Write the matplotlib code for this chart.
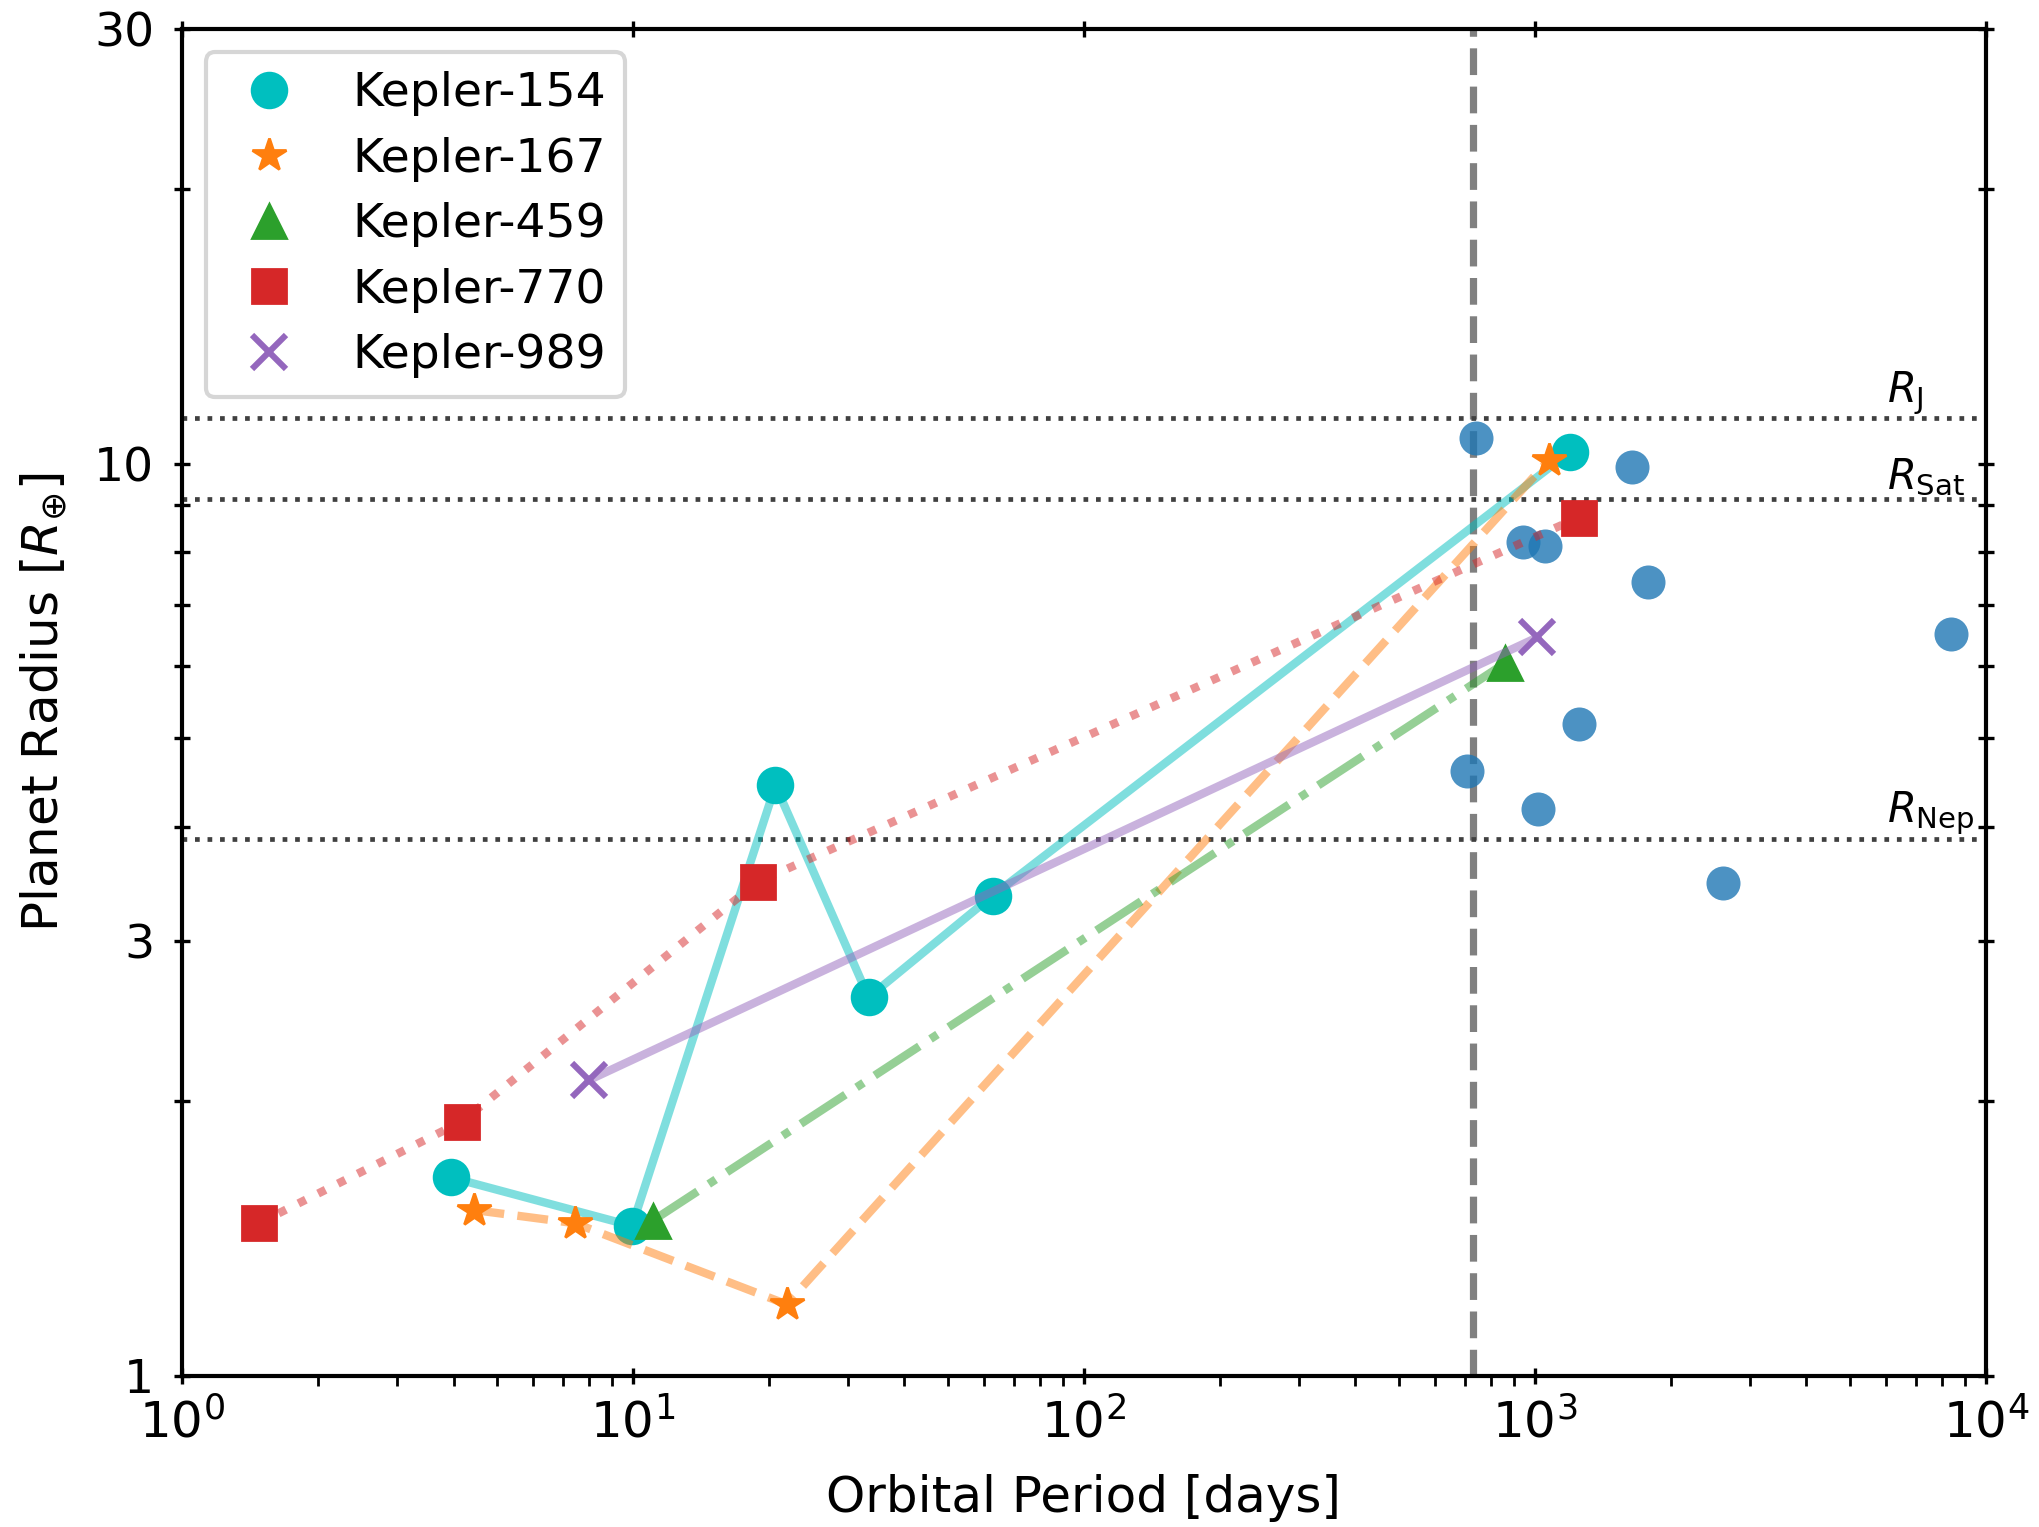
import matplotlib
matplotlib.use("Agg")
import matplotlib.pyplot as plt
from matplotlib.ticker import FixedLocator, FixedFormatter, LogLocator, NullFormatter

# Multi-planet systems: orbital period [days] and radius [Earth radii]
systems = ["Kepler-154", "Kepler-167", "Kepler-459", "Kepler-770", "Kepler-989"]
k154_period = [3.95, 9.95, 20.7, 33.3, 62.7, 1195]
k154_radius = [1.65, 1.46, 4.44, 2.60, 3.36, 10.3]
k167_period = [4.43, 7.43, 21.9, 1074]
k167_radius = [1.52, 1.47, 1.198, 10.09]
k459_period = [11.07, 857]
k459_radius = [1.48, 6.04]
k770_period = [1.48, 4.17, 18.9, 1251]
k770_radius = [1.47, 1.90, 3.48, 8.73]
k989_period = [7.99, 1012]
k989_radius = [2.11, 6.45]

# Other long-period planets
other_period = [741, 1643, 940, 1052, 1778, 8360, 1251, 707, 1018, 2614]
other_radius = [10.66, 9.92, 8.20, 8.12, 7.41, 6.50, 5.18, 4.60, 4.18, 3.47]

# Reference radii and period cut
r_jup, r_sat, r_nep = 11.21, 9.14, 3.88
period_cut = 730

y_ticks = [1, 3, 10, 30]
y_tick_labels = ["1", "3", "10", "30"]
y_minor = [2, 4, 5, 6, 7, 8, 9, 20]

plt.rcParams["font.family"] = ["DejaVu Sans"]
plt.rcParams["mathtext.fontset"] = "dejavusans"

fig = plt.figure(figsize=(10.195, 7.635), dpi=200)
ax = fig.add_axes([0.0893, 0.099, 0.8846, 0.8823])

ax.set_xscale("log")
ax.set_yscale("log")
ax.set_xlim(1, 1e4)
ax.set_ylim(1, 30)

ax.axvline(period_cut, color="gray", ls="--", lw=2.6, zorder=1)
for r in (r_jup, r_sat, r_nep):
    ax.axhline(r, color="0.25", ls=":", lw=1.7, zorder=1)

for r, lab in ((r_jup, r"$R_{\rm J}$"), (r_sat, r"$R_{\rm Sat}$"), (r_nep, r"$R_{\rm Nep}$")):
    ax.annotate(lab, xy=(6050, r), xytext=(0, 0.5), textcoords="offset points",
                ha="left", va="bottom", fontsize=15)

ax.scatter(other_period, other_radius, s=150, color="C0", alpha=0.8,
           linewidths=0, zorder=2)

series = [
    (k154_period, k154_radius, "c", "o", "-"),
    (k167_period, k167_radius, "C1", "*", "--"),
    (k459_period, k459_radius, "C2", "^", "-."),
    (k770_period, k770_radius, "C3", "s", ":"),
    (k989_period, k989_radius, "C4", "x", "-"),
]
for name, (p, r, col, mk, ls) in zip(systems, series):
    ax.plot(p, r, ls=ls, color=col, lw=3, alpha=0.5, zorder=3)
    mew = 2.2 if mk == "x" else 1.0
    ax.plot(p, r, ls="none", marker=mk, color=col, markersize=12.5,
            markeredgewidth=mew, label=name, zorder=3)

ax.yaxis.set_major_locator(FixedLocator(y_ticks))
ax.yaxis.set_major_formatter(FixedFormatter(y_tick_labels))
ax.yaxis.set_minor_locator(FixedLocator(y_minor))
ax.yaxis.set_minor_formatter(NullFormatter())
ax.xaxis.set_major_locator(LogLocator(base=10, numticks=10))
ax.xaxis.set_minor_locator(LogLocator(base=10, subs=range(2, 10), numticks=20))
ax.xaxis.set_minor_formatter(NullFormatter())

ax.tick_params(axis="x", which="major", direction="inout", top=True, length=6,
               width=1.2, labelsize=18, pad=5)
ax.tick_params(axis="x", which="minor", direction="out", top=False, length=3.5,
               width=1.0)
ax.tick_params(axis="y", which="both", direction="inout", right=True, length=6,
               width=1.2, labelsize=17, pad=7)

for sp in ax.spines.values():
    sp.set_linewidth(1.5)

ax.set_xlabel("Orbital Period [days]", fontsize=18, labelpad=9.5)
ax.set_ylabel(r"Planet Radius [$R_{\oplus}$]", fontsize=18, labelpad=9)

leg = ax.legend(loc="upper left", fontsize=17, numpoints=1, borderpad=0.4,
                labelspacing=0.435, handlelength=1.9, handletextpad=0.8)
leg.get_frame().set_linewidth(1.5)

fig.savefig("out.png", dpi=200)
